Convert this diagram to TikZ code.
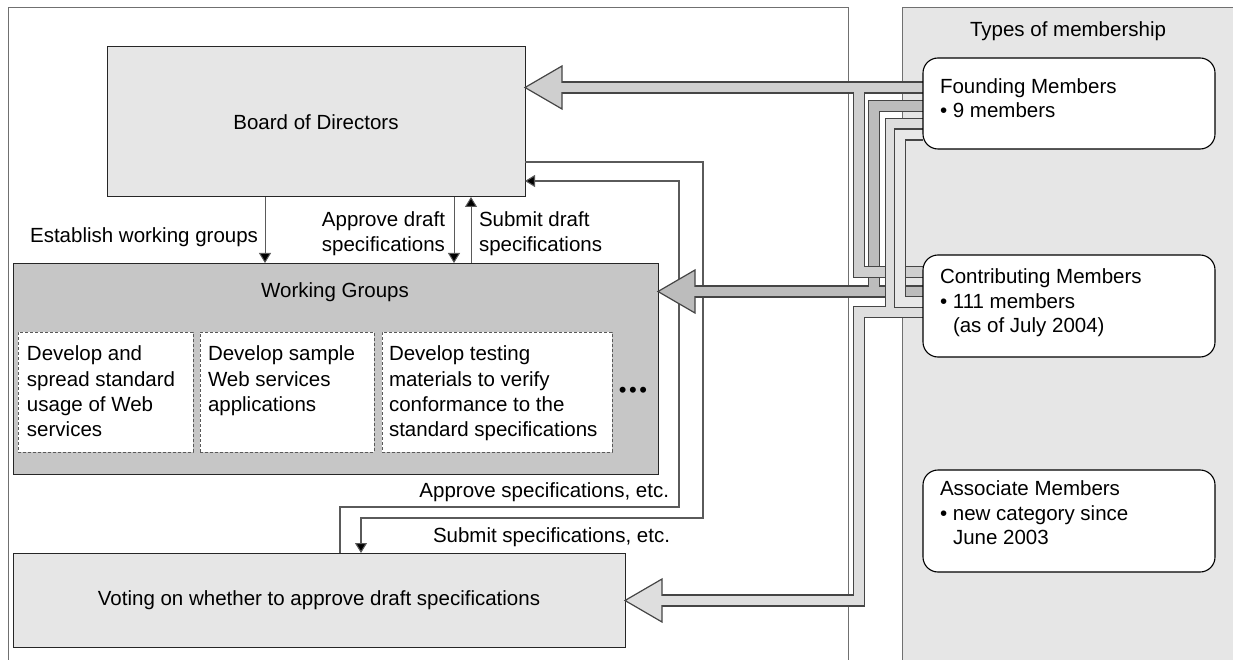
\documentclass[tikz,border=0pt]{standalone}
\usepackage{fontspec}
\setmainfont{Liberation Sans}
\usetikzlibrary{arrows.meta}

\definecolor{panelfill}{HTML}{E6E6E6}
\definecolor{boardfill}{HTML}{E6E6E6}
\definecolor{wgfill}{HTML}{C6C6C6}
\definecolor{framegray}{HTML}{707070}
\definecolor{pipeline}{HTML}{454545}
\definecolor{pipeboard}{HTML}{CFCFCF}
\definecolor{pipewg}{HTML}{BCBCBC}
\definecolor{pipevote}{HTML}{DEDEDE}
\definecolor{pipeextra}{HTML}{E8E8E8}
\definecolor{arrowgray}{HTML}{5A5A5A}

\begin{document}
\begin{tikzpicture}[x=1pt,y=-1pt,
  every node/.style={inner sep=0pt,outer sep=0pt},
  txt/.style={font=\fontsize{20.5}{24.5}\selectfont,text=black},
  frame/.style={draw=framegray,line width=1pt},
  areabox/.style={draw=black!85,line width=1pt,anchor=north west},
  dashbox/.style={draw=black!65,fill=white,line width=1pt,dash pattern=on 3pt off 2pt,anchor=north west},
  memberbox/.style={draw=black,fill=white,line width=1.1pt,rounded corners=15pt,anchor=north west},
  smallarrow/.style={draw=arrowgray,line width=1pt,-{Triangle[width=12pt,length=10pt,fill=black]}},
  loopline/.style={draw=arrowgray,line width=1.1pt},
  pipeout/.style={draw=pipeline,line width=12.2pt,line join=miter,line cap=butt},
  pipein/.style={line width=9.8pt,line join=miter,line cap=butt},
  pipehead/.style={draw=pipeline,line width=1.2pt,line join=miter},
]
\useasboundingbox (0,0) rectangle (1233,660);

% ---------- organisation panel ----------
\draw[frame] (8,660) -- (8,8) -- (848,8) -- (848,660);

\node[areabox,fill=boardfill,minimum width=418pt,minimum height=150pt] (board) at (107,47) {};
\node[txt] (boardtxt) at (board.center) {Board of Directors};

\node[areabox,fill=wgfill,minimum width=645pt,minimum height=211pt] (wg) at (13,263) {};
\node[txt] (wgtxt) at (335,292) {Working Groups};

\node[dashbox,minimum width=175pt,minimum height=120pt] (wg1) at (18,332) {};
\node[dashbox,minimum width=174pt,minimum height=120pt] (wg2) at (200,332) {};
\node[dashbox,minimum width=230pt,minimum height=120pt] (wg3) at (382,332) {};
\node[txt,align=left,anchor=north west,font=\fontsize{20.5}{25.3}\selectfont] (wg1txt) at (27,346)
  {Develop and\\spread standard\\usage of Web\\services};
\node[txt,align=left,anchor=north west,font=\fontsize{20.5}{25.3}\selectfont] (wg2txt) at (208,346)
  {Develop sample\\Web services\\applications};
\node[txt,align=left,anchor=north west,font=\fontsize{20.5}{25.3}\selectfont] (wg3txt) at (389,346)
  {Develop testing\\materials to verify\\conformance to the\\standard specifications};
\node[txt,font=\fontsize{22}{22}\selectfont] (more) at (633,392) {•\hspace{2.5pt}•\hspace{2.5pt}•};

\node[areabox,fill=boardfill,minimum width=612pt,minimum height=94pt] (vote) at (13,553) {};
\node[txt] (votetxt) at (vote.center) {Voting on whether to approve draft specifications};

% ---------- arrows between board and working groups ----------
\coordinate (xEst) at (265,0);
\coordinate (xApp) at (454,0);
\coordinate (xSub) at (471,0);
\draw[smallarrow] (board.south -| xEst) -- (wg.north -| xEst);
\draw[smallarrow] (board.south -| xApp) -- (wg.north -| xApp);
\draw[smallarrow] (wg.north -| xSub) -- (board.south -| xSub);
\node[txt,anchor=east] (esttxt) at (258,237) {Establish working groups};
\node[txt,align=right,anchor=east] (apptxt) at (445,233.5) {Approve draft\\specifications};
\node[txt,align=left,anchor=west] (subtxt) at (479,233.5) {Submit draft\\specifications};

% ---------- loop between board and voting ----------
\coordinate (yOut) at (0,162);
\coordinate (yIn) at (0,181);
\coordinate (xOutDn) at (361,0);
\coordinate (xInUp) at (340,0);
\draw[loopline,-{Triangle[width=12pt,length=10pt,fill=black]}]
  (board.east |- yOut) -- (703,162) -- (703,518) -- (361,518) -- (vote.north -| xOutDn);
\draw[loopline,-{Triangle[width=12pt,length=10pt,fill=black]}]
  (vote.north -| xInUp) -- (340,507) -- (679,507) -- (679,181) -- (board.east |- yIn);
\node[txt,anchor=east] (apprtxt) at (669,492) {Approve specifications, etc.};
\node[txt,anchor=east] (submtxt) at (670,537) {Submit specifications, etc.};

% ---------- membership panel ----------
\path[fill=panelfill] (902,8) rectangle (1240,665);
\draw[frame] (902,665) -- (902,8) -- (1240,8);
\node[txt] (typestxt) at (1068,31) {Types of membership};

% member box outlines placed first so pipe ends can refer to them
\path (923,58) node[memberbox,draw=none,fill=none,minimum width=292pt,minimum height=91pt] (found) {};
\path (923,255) node[memberbox,draw=none,fill=none,minimum width=292pt,minimum height=102pt] (contrib) {};
\path (923,470) node[memberbox,draw=none,fill=none,minimum width=292pt,minimum height=102pt] (assoc) {};

% ---------- membership pipes ----------
\coordinate (yA) at (0,87.5);
\coordinate (yB) at (0,106);
\coordinate (yC) at (0,124);
\coordinate (yD) at (0,134.5);
\coordinate (yA2) at (0,272);
\coordinate (yW) at (0,291.5);
\coordinate (yD2) at (0,302);
\coordinate (yV) at (0,312);
\coordinate (yVote) at (0,600.5);
\coordinate (xA) at (859,0);
\coordinate (xB) at (874,0);
\coordinate (xC) at (891,0);
\coordinate (xD) at (900,0);
\coordinate (tipB) at (board.east |- yA);
\coordinate (tipW) at (wg.east |- yW);
\coordinate (tipV) at (vote.east |- yVote);

% working groups pipe
\draw[pipeout] ([xshift=37pt]tipW) -- (contrib.west |- yW);
\draw[pipeout] (found.west |- yB) -- (xB |- yB) -- (xB |- yW);
\draw[pipehead,fill=pipewg] (tipW) -- ++(37,-21.5) -- ++(0,43) -- cycle;
\draw[pipein,draw=pipewg] ([xshift=33pt]tipW) -- (contrib.west |- yW);
\draw[pipein,draw=pipewg] (found.west |- yB) -- (xB |- yB) -- (xB |- yW);

% board pipe
\draw[pipeout] ([xshift=37pt]tipB) -- (found.west |- yA);
\draw[pipeout] (xA |- yA) -- (xA |- yA2) -- (contrib.west |- yA2);
\draw[pipehead,fill=pipeboard] (tipB) -- ++(37,-21.5) -- ++(0,43) -- cycle;
\draw[pipein,draw=pipeboard] ([xshift=33pt]tipB) -- (found.west |- yA);
\draw[pipein,draw=pipeboard] (xA |- yA) -- (xA |- yA2) -- (contrib.west |- yA2);

% voting pipe
\draw[pipeout] ([xshift=37pt]tipV) -- (xA |- yVote) -- (xA |- yV) -- (contrib.west |- yV);
\draw[pipeout] (found.west |- yC) -- (xC |- yC) -- (xC |- yV);
\draw[pipehead,fill=pipevote] (tipV) -- ++(37,-21.5) -- ++(0,43) -- cycle;
\draw[pipein,draw=pipevote] ([xshift=33pt]tipV) -- (xA |- yVote) -- (xA |- yV) -- (contrib.west |- yV);
\draw[pipein,draw=pipevote] (found.west |- yC) -- (xC |- yC) -- (xC |- yV);

% fourth link between the two member levels
\draw[pipeout] (found.west |- yD) -- (xD |- yD) -- (xD |- yD2) -- (contrib.west |- yD2);
\draw[pipein,draw=pipeextra] (found.west |- yD) -- (xD |- yD) -- (xD |- yD2) -- (contrib.west |- yD2);

% ---------- member boxes ----------
\node[memberbox,minimum width=292pt,minimum height=91pt] (foundbox) at (923,58) {};
\node[memberbox,minimum width=292pt,minimum height=102pt] (contribbox) at (923,255) {};
\node[memberbox,minimum width=292pt,minimum height=102pt] (assocbox) at (923,470) {};
\node[txt,align=left,anchor=west] (foundtxt) at (940,98)
  {Founding Members\\• 9 members};
\node[txt,align=left,anchor=west] (contribtxt) at (940,303)
  {Contributing Members\\• 111 members\\\hspace*{13pt}(as of July 2004)};
\node[txt,align=left,anchor=west] (assoctxt) at (940,513)
  {Associate Members\\• new category since\\\hspace*{13pt}June 2003};
\end{tikzpicture}
\end{document}
